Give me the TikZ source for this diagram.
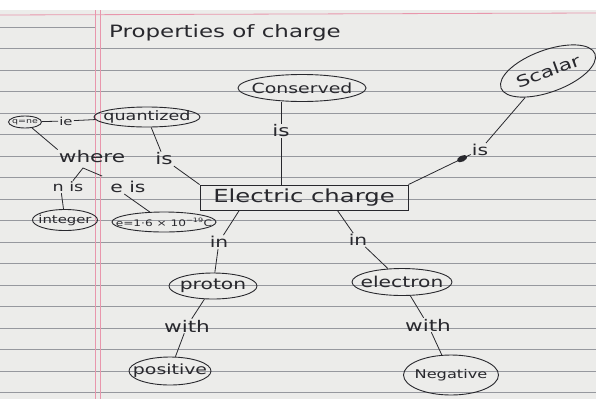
\documentclass[tikz,border=0pt]{standalone}
\usepackage{fontspec}
\setmainfont{DejaVu Sans}[FakeStretch=1.35]
\usetikzlibrary{shapes.geometric,calc}
\newcommand{\handsize}[1]{\fontsize{#1}{#1}\selectfont}

\begin{document}
\begin{tikzpicture}[x=1pt,y=-1pt,
    bubble/.style={draw=ink, ellipse, line width=0.9pt, inner xsep=-40pt, inner ysep=-15pt, text=ink},
    word/.style={inner sep=1pt, text=ink},
    link/.style={draw=ink, line width=0.8pt}]
    % Define colors for the notebook page
    \definecolor{ink}{RGB}{40,40,45}
    \definecolor{paper}{RGB}{236,236,234}
    \definecolor{rule}{RGB}{150,152,158}
    \definecolor{margin}{RGB}{232,150,172}

    \useasboundingbox (0,0) rectangle (596,399);

    % Page and ruling
    \fill[white] (0,0) rectangle (596,399);
    \fill[paper] (0,10) rectangle (596,399);
    \draw[margin, line width=0.8pt] (0,15) -- (596,13);
    \draw[rule, line width=0.6pt] (0,27) -- (95,27);
    \foreach \k in {0,...,16} {
        \draw[rule, line width=0.6pt] (0,48.5+21.5*\k) -- (596,48.5+21.5*\k);
    }
    \draw[margin, line width=0.8pt] (95,10) -- (95,399);
    \draw[margin, line width=0.8pt] (100,10) -- (100,399);

    % Title
    \node[word, font=\handsize{17}] (title) at (225,33) {Properties of charge};

    % Concepts
    \node[draw=ink, line width=0.9pt, inner sep=0pt, minimum width=208pt, minimum height=25pt,
          text=ink, font=\handsize{18}] (ec) at (304,197.5) {Electric charge};
    \node[bubble, minimum width=128pt, minimum height=27pt, font=\handsize{14}] (cons) at (302,88) {Conserved};
    \node[bubble, rotate=20, minimum width=100pt, minimum height=42pt, font=\handsize{16}] (scal) at (548,71) {Scalar};
    \node[bubble, minimum width=106pt, minimum height=20pt, font=\handsize{13}] (quant) at (147,117) {quantized};
    \node[bubble, minimum width=33pt, minimum height=12pt, font=\handsize{7}] (qne) at (25,122) {q=ne};
    \node[bubble, minimum width=65pt, minimum height=21pt, font=\handsize{11}] (intg) at (65,220) {integer};
    \node[bubble, minimum width=104pt, minimum height=20pt, font=\handsize{9}] (eval) at (164,222) {e=1·6 × 10\textsuperscript{−19}C};
    \node[bubble, minimum width=88pt, minimum height=26pt, font=\handsize{15}] (prot) at (213,286) {proton};
    \node[bubble, minimum width=100pt, minimum height=27pt, font=\handsize{15}] (elec) at (402,282) {electron};
    \node[bubble, minimum width=82pt, minimum height=28pt, font=\handsize{14}] (pos) at (170,371) {positive};
    \node[bubble, minimum width=95pt, minimum height=40pt, font=\handsize{12}] (neg) at (451,375) {Negative};

    % Linking words
    \node[word, font=\handsize{16}] (is1) at (281,131) {is};
    \node[word, font=\handsize{15}] (is2) at (480,150) {is};
    \node[word, font=\handsize{16}] (is3) at (164,159) {is};
    \node[word, font=\handsize{11}] (ie) at (66,121) {ie};
    \node[word, font=\handsize{16}] (where) at (92,157) {where};
    \node[word, font=\handsize{13}] (nis) at (68,187) {n is};
    \node[word, font=\handsize{15}] (eis) at (128,187) {e is};
    \node[word, font=\handsize{15}] (in1) at (219,242) {in};
    \node[word, font=\handsize{15}] (in2) at (358,240) {in};
    \node[word, font=\handsize{16}] (with1) at (187,326) {with};
    \node[word, font=\handsize{16}] (with2) at (428,325) {with};
    \coordinate (fork) at (83,168);

    % Connectors
    \draw[link] (is1 |- cons.south) -- (is1) -- (is1 |- ec.north);
    \draw[link] (scal) -- (is2) -- (ec.north east);
    \node[fill=ink, ellipse, inner sep=0pt, minimum width=11pt, minimum height=6pt, rotate=26] (blob)
        at ($(is2)!0.25!(ec.north east)$) {};
    \draw[link] (qne) -- (ie) -- (quant);
    \draw[link] (quant) -- (is3) -- (ec.north west);
    \draw[link] (qne) -- (where.north west);
    \draw[link, shorten >=10pt] (nis) -- (fork) -- (eis);
    \draw[link] ($(nis.south west)!0.3!(nis.south east)$) -- (intg);
    \draw[link] ($(eis.south west)!0.4!(eis.south east)$) -- (eval);
    \draw[link] ($(ec.south west)!0.19!(ec.south east)$) -- (in1) -- (prot);
    \draw[link] ($(ec.south west)!0.66!(ec.south east)$) -- (in2) -- (elec);
    \draw[link] (prot) -- (with1) -- (pos);
    \draw[link] (elec) -- (with2) -- (neg);
\end{tikzpicture}
\end{document}
